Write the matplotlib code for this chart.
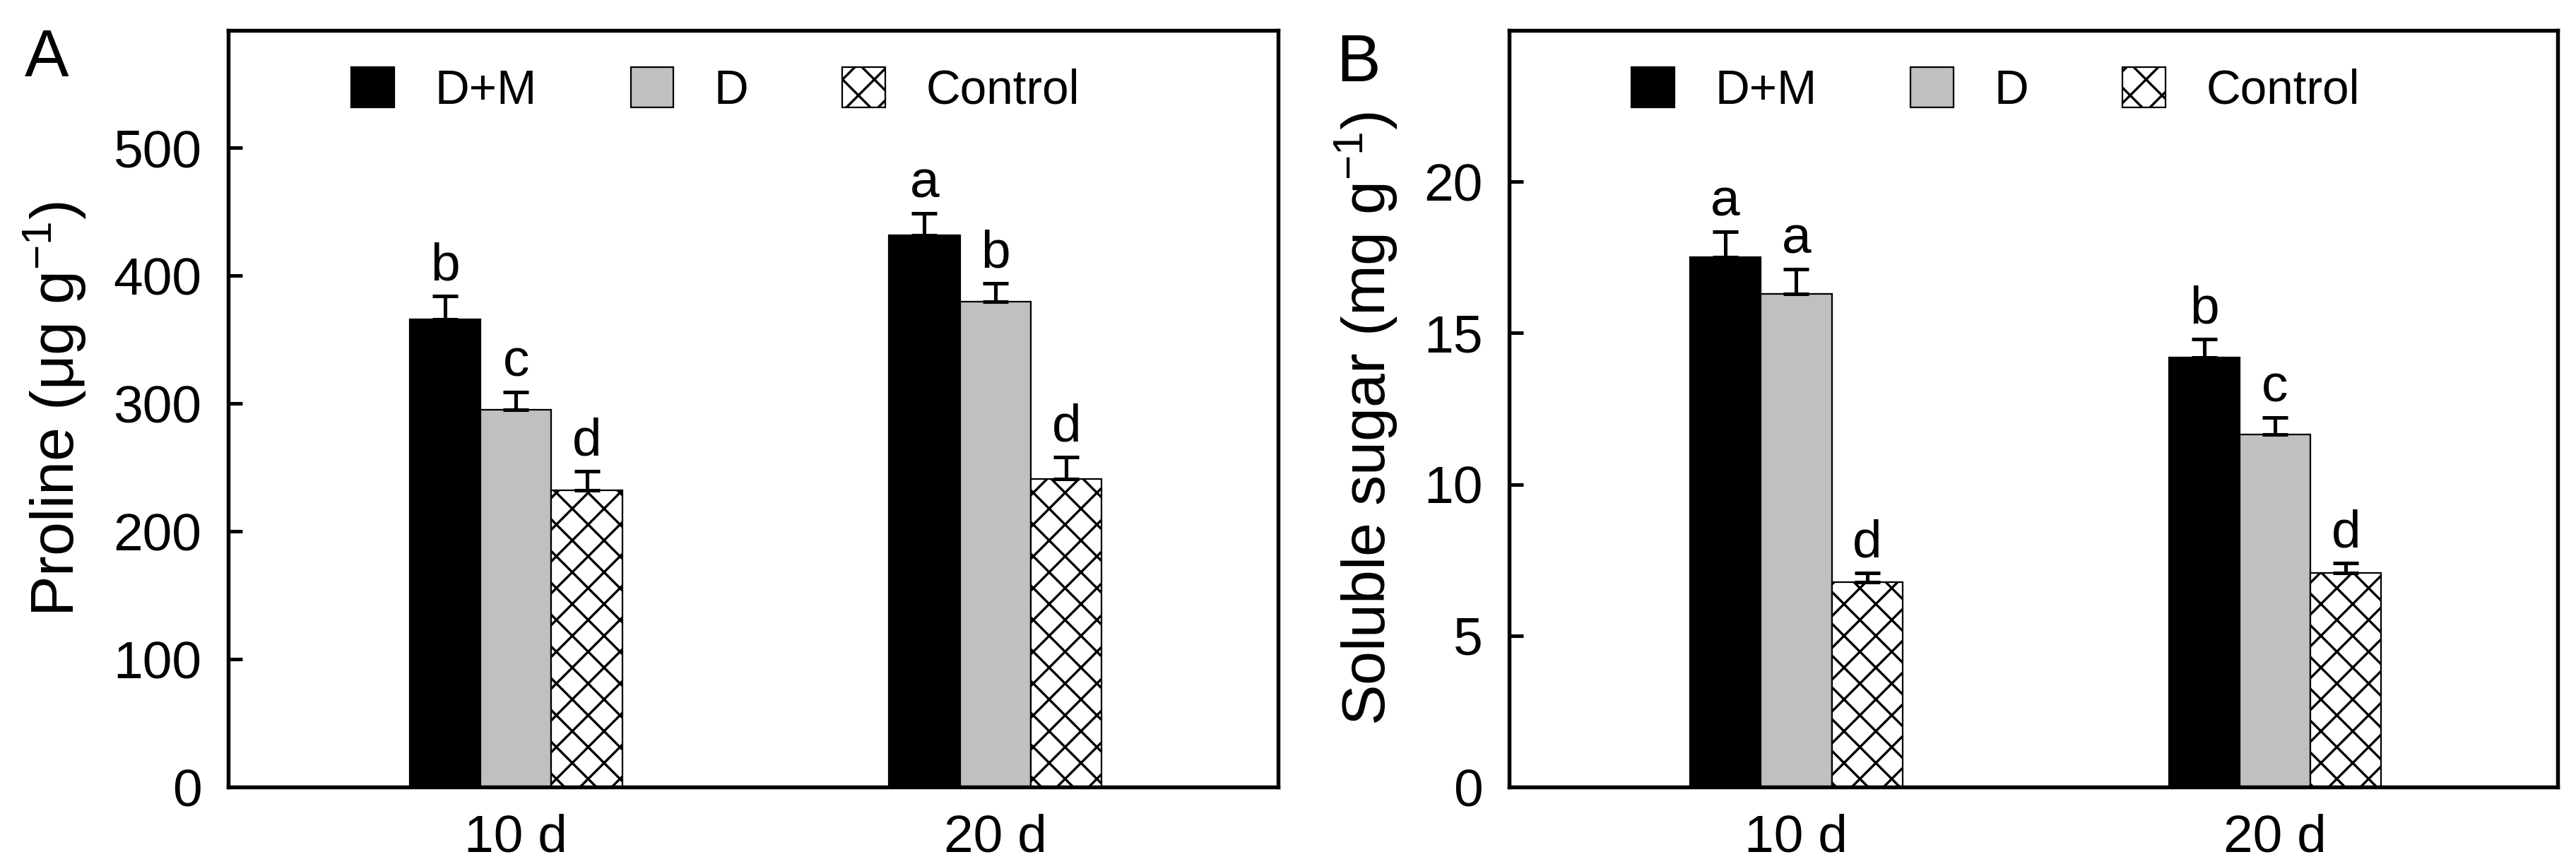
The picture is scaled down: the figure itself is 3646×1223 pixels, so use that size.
import matplotlib
matplotlib.use("Agg")
import matplotlib.pyplot as plt
import numpy as np

plt.rcParams["font.family"] = ["Liberation Sans", "DejaVu Sans"]
plt.rcParams["mathtext.fontset"] = "custom"
plt.rcParams["mathtext.rm"] = "Liberation Sans"
plt.rcParams["mathtext.it"] = "Liberation Sans:italic"
plt.rcParams["hatch.linewidth"] = 0.9

# data
days = ["10 d", "20 d"]
treatments = ["D+M", "D", "Control"]

proline_mean = {"D+M": [366, 432], "D": [295, 380], "Control": [232, 241]}
proline_err = {"D+M": [18, 17], "D": [14, 14], "Control": [15, 17]}
proline_letters = {"D+M": ["b", "a"], "D": ["c", "b"], "Control": ["d", "d"]}

sugar_mean = {"D+M": [17.5, 14.2], "D": [16.3, 11.65], "Control": [6.78, 7.08]}
sugar_err = {"D+M": [0.85, 0.6], "D": [0.8, 0.55], "Control": [0.3, 0.33]}
sugar_letters = {"D+M": ["a", "b"], "D": ["a", "c"], "Control": ["d", "d"]}

styles = {
    "D+M": dict(color="black", edgecolor="black", hatch=None),
    "D": dict(color="#c0c0c0", edgecolor="black", hatch=None),
    "Control": dict(color="white", edgecolor="black", hatch="xx"),
}

FS = 20
BAR_W = 0.148


def draw_panel(ax, means, errs, letters, ylabel, ylim, yticks):
    x = np.arange(len(days))
    for i, name in enumerate(treatments):
        pos = x + (i - 1) * BAR_W
        st = styles[name]
        ax.bar(pos, means[name], BAR_W, color=st["color"], edgecolor=st["edgecolor"],
               hatch=st["hatch"], linewidth=0.6, label=name, zorder=2)
        ax.errorbar(pos, means[name], yerr=[np.zeros(len(days)), errs[name]],
                    fmt="none", ecolor="black", elinewidth=1.35, capsize=4.8,
                    capthick=1.35, zorder=3)
        for xp, m, e, lab in zip(pos, means[name], errs[name], letters[name]):
            ax.annotate(lab, (xp, m + e), xytext=(0, 6), textcoords="offset points",
                        ha="center", va="baseline", fontsize=FS)
    ax.set_xlim(-0.60, 1.59)
    ax.set_ylim(*ylim)
    ax.set_yticks(yticks)
    ax.set_xticks(x)
    ax.set_xticklabels(days)
    ax.tick_params(axis="y", direction="in", length=5.3, width=1.35, labelsize=FS, pad=10)
    ax.tick_params(axis="x", length=0, labelsize=FS, pad=10)
    for sp in ax.spines.values():
        sp.set_linewidth(1.45)
    ax.set_ylabel(ylabel, fontsize=23)
    ax.legend(loc="center", bbox_to_anchor=(0.464, 0.921), ncol=3, frameon=False,
              fontsize=18, handlelength=0.9, handleheight=0.92, handletextpad=0.85,
              columnspacing=1.97, borderpad=0)


fig = plt.figure(figsize=(3646 / 270, 1223 / 270), dpi=270)
ax_a = fig.add_axes([0.0886, 0.0891, 0.4076, 0.8757])
ax_b = fig.add_axes([0.5858, 0.0891, 0.4070, 0.8757])

draw_panel(ax_a, proline_mean, proline_err, proline_letters,
           r"Proline (μg g$^{-1}$)", (0, 592), [0, 100, 200, 300, 400, 500])
draw_panel(ax_b, sugar_mean, sugar_err, sugar_letters,
           r"Soluble sugar (mg g$^{-1}$)", (0, 25), [0, 5, 10, 15, 20])

ax_a.yaxis.set_label_coords(-0.133, 0.5)
ax_b.yaxis.set_label_coords(-0.104, 0.487)

fig.text(0.0096, 0.968, "A", fontsize=25, va="top", ha="left")
fig.text(0.5186, 0.962, "B", fontsize=25, va="top", ha="left")

fig.savefig("out.png", dpi=270)
